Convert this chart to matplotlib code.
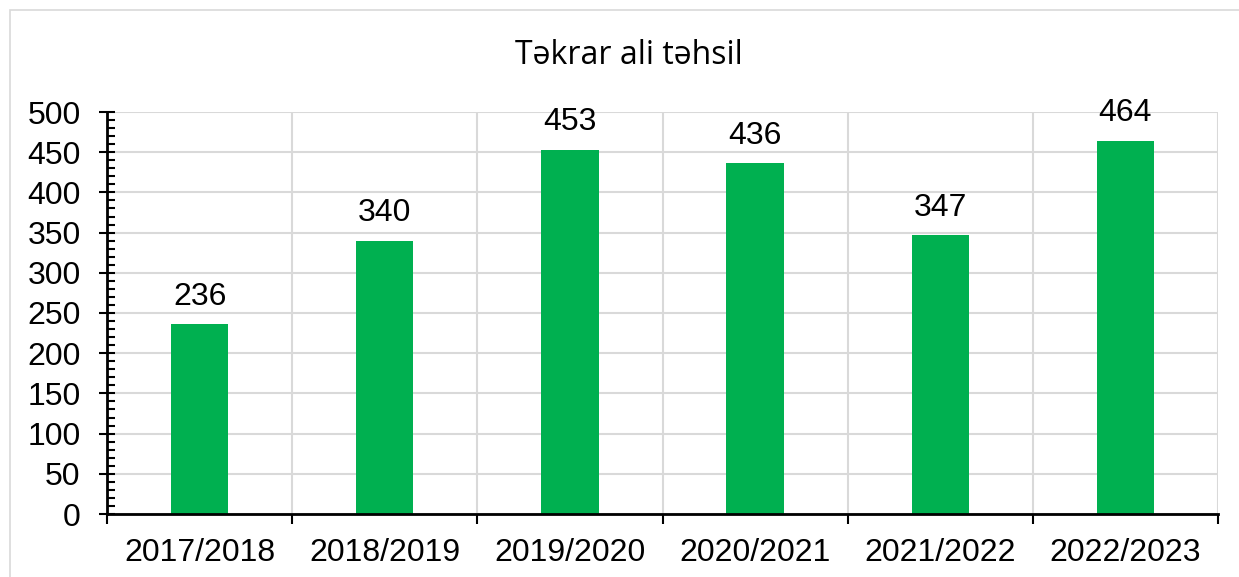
import matplotlib
matplotlib.use("Agg")
import matplotlib.pyplot as plt
from matplotlib.ticker import MultipleLocator, FixedLocator
from matplotlib.patches import Rectangle

categories = ["2017/2018", "2018/2019", "2019/2020", "2020/2021", "2021/2022", "2022/2023"]
values = [236, 340, 453, 436, 347, 464]
title = "Təkrar ali təhsil"

W, H = 1239, 577
fig = plt.figure(figsize=(W / 100, H / 100), dpi=100)
fig.patches.append(Rectangle((10 / W, -0.1), 1.2, 1 - 10 / H + 0.1, transform=fig.transFigure,
                             fill=False, edgecolor="#D9D9D9", linewidth=1.2))

ax = fig.add_axes([107 / W, 1 - 514 / H, (1218 - 107) / W, (514 - 112) / H])
x = list(range(len(categories)))
ax.bar(x, values, width=0.31, color="#00B050", zorder=3)
for xi, v in zip(x, values):
    ax.annotate(str(v), (xi, v), xytext=(0, 9), textcoords="offset points",
                ha="center", va="bottom", fontsize=23, family="Liberation Sans", zorder=4)

ax.set_xlim(-0.5, len(categories) - 0.5)
ax.set_ylim(0, 500)
ax.yaxis.set_major_locator(MultipleLocator(50))
ax.yaxis.set_minor_locator(MultipleLocator(10))
ax.xaxis.set_major_locator(FixedLocator([i - 0.5 for i in range(len(categories) + 1)]))
ax.set_xticklabels([""] * (len(categories) + 1))
ax.set_xticks(x, minor=True)
ax.set_xticklabels(categories, minor=True)

ax.grid(True, which="major", color="#D9D9D9", linewidth=1.5, zorder=0)
for s in ["top", "right"]:
    ax.spines[s].set_visible(False)
for s in ["left", "bottom"]:
    ax.spines[s].set_linewidth(2)
    ax.spines[s].set_zorder(5)

ax.tick_params(axis="y", which="major", direction="inout", length=12, width=1.5,
               labelsize=23, pad=13)
ax.tick_params(axis="y", which="minor", direction="in", length=6, width=1.5)
ax.tick_params(axis="x", which="major", direction="out", length=7, width=1.5)
ax.tick_params(axis="x", which="minor", length=0, labelsize=23, pad=17)
for lab in ax.get_xticklabels(minor=True) + ax.get_yticklabels():
    lab.set_family("Liberation Sans")

fig.text(629 / W, 1 - 56 / H, title, ha="center", va="center", fontsize=23, family="Open Sans")

fig.savefig("out.png", dpi=100)
